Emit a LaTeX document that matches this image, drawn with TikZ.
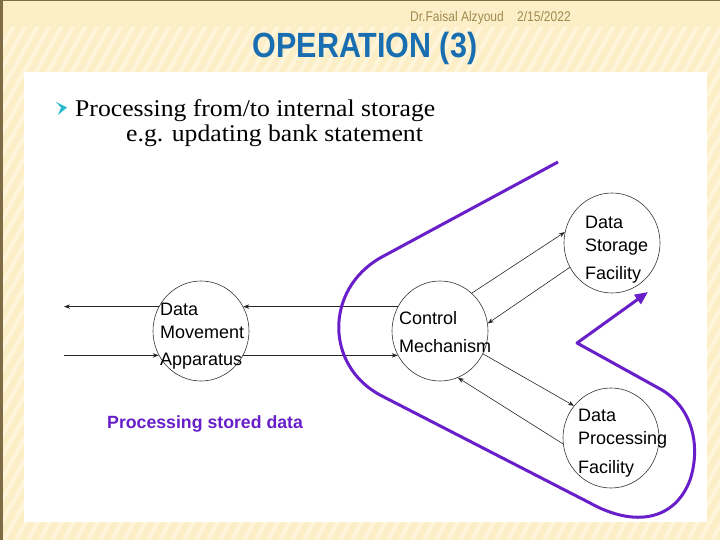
\documentclass[tikz,border=0pt]{standalone}
\usepackage{fontspec}
\setmainfont{Liberation Serif}
\setsansfont{Liberation Sans}
\newfontfamily\narrowsans{Liberation Sans}[FakeStretch=0.86]
\newfontfamily\titlesans{Liberation Sans}[FakeStretch=0.87]
\newfontfamily\bookserif{Liberation Serif}[FakeStretch=1.07]
\usetikzlibrary{arrows.meta,shapes.geometric,positioning}

\definecolor{slidecream}{RGB}{252,238,198}
\definecolor{stripecream}{RGB}{255,245,218}
\definecolor{slideedge}{RGB}{125,108,70}
\definecolor{headergold}{RGB}{160,138,80}
\definecolor{titleblue}{RGB}{25,110,178}
\definecolor{loopviolet}{RGB}{104,30,200}
\definecolor{bulletteal}{RGB}{40,185,205}

\begin{document}
\begin{tikzpicture}[x=1pt, y=-1pt, thin,
  unit/.style={ellipse, draw=black!80, line width=0.6pt,
    minimum width=96pt, minimum height=100pt, inner sep=0pt},
  unitlabel/.style={font=\sffamily\fontsize{18}{23}\selectfont,
    align=left, anchor=base west, inner sep=0pt},
  flow/.style={draw=black!85, line width=0.6pt,
    -{Stealth[length=6pt,width=4.5pt]}},
  loopline/.style={draw=loopviolet, line width=3pt, line join=round,
    -{Triangle[length=13pt,width=11pt]}}]

  \useasboundingbox (0,0) rectangle (720,540);

  % slide background
  \fill[slidecream] (0,0) rectangle (720,540);
  \begin{scope}
    \clip (0,28) rectangle (720,540);
    \foreach \s in {-320,-308,...,720}
      \draw[stripecream, line width=4pt] (\s,540) -- (\s+300,0);
  \end{scope}
  \fill[slideedge] (0,0) rectangle (2.5,540);
  \fill[slideedge] (0,0) rectangle (720,1.5);
  \fill[white] (24,72) rectangle (707,522);

  % ---- header ----
  \node[font=\narrowsans\fontsize{14}{16}\selectfont, text=headergold,
    anchor=base west, inner sep=0pt] (author) at (410,22) {Dr.Faisal Alzyoud};
  \node[font=\narrowsans\fontsize{14}{16}\selectfont, text=headergold,
    anchor=base west, inner sep=0pt] (date) at (517,22) {2/15/2022};
  \node[font=\titlesans\bfseries\fontsize{35}{40}\selectfont, text=titleblue,
    anchor=base, inner sep=0pt] (title) at (365,58) {OPERATION (3)};

  % ---- bullet text ----
  \fill[bulletteal] (56,102) -- (67,107.5) -- (58,115) -- (61,107.5) -- cycle;
  \node[font=\bookserif\fontsize{24}{28}\selectfont, anchor=base west,
    inner sep=0pt] (point) at (75,117) {Processing from/to internal storage};
  \node[font=\bookserif\fontsize{24}{28}\selectfont, anchor=base west,
    inner sep=0pt] (example) at (126,142) {e.g. updating bank statement};

  % ---- units ----
  \node[unit] (dma) at (201,331) {};
  \node[unit] (cm)  at (440,331) {};
  \node[unit] (dsf) at (612,243) {};
  \node[unit] (dpf) at (611,438) {};

  % base of a label = baseline of its last line
  \node[unitlabel] (dmatext) at ([shift={(-41pt,-34pt)}]dma.center)
    {Data\\Movement\\[4pt]Apparatus};
  \node[unitlabel] (cmtext) at ([shift={(-41pt,-21pt)}]cm.center)
    {Control\\[5pt]Mechanism};
  \node[unitlabel] (dsftext) at ([shift={(-27pt,-36pt)}]dsf.center)
    {Data\\Storage\\[5pt]Facility};
  \node[unitlabel] (dpftext) at ([shift={(-33pt,-35pt)}]dpf.center)
    {Data\\Processing\\[6pt]Facility};

  % free ends on the left
  \coordinate (outleft) at (dma.150 -| 64,0);
  \coordinate (inleft)  at (dma.210 -| 64,0);

  % ---- flows ----
  \draw[flow] (cm.150) -- (dma.30);
  \draw[flow] (dma.150) -- (outleft);
  \draw[flow] (inleft) -- (dma.210);
  \draw[flow] (dma.330) -- (cm.210);

  \draw[flow] (cm.50) -- (dsf.167);
  \draw[flow] (dsf.210) -- (cm.9);
  \draw[flow] (cm.-28) -- (dpf.139);
  \draw[flow] (dpf.187) -- (cm.-69);

  % ---- processing loop ----
  \draw[loopline] (558,162) -- (380,258)
    .. controls (325,290) and (325,365) .. (380,395) -- (590,503)
    .. controls (635,528) and (675,520) .. (690,480)
    .. controls (700,450) and (695,410) .. (662,390)
    -- (577,343) -- (648,292);

  \node[font=\sffamily\bfseries\fontsize{17.7}{20}\selectfont, text=loopviolet,
    anchor=base west, inner sep=0pt] (caption) at (107,428) {Processing stored data};

\end{tikzpicture}
\end{document}
